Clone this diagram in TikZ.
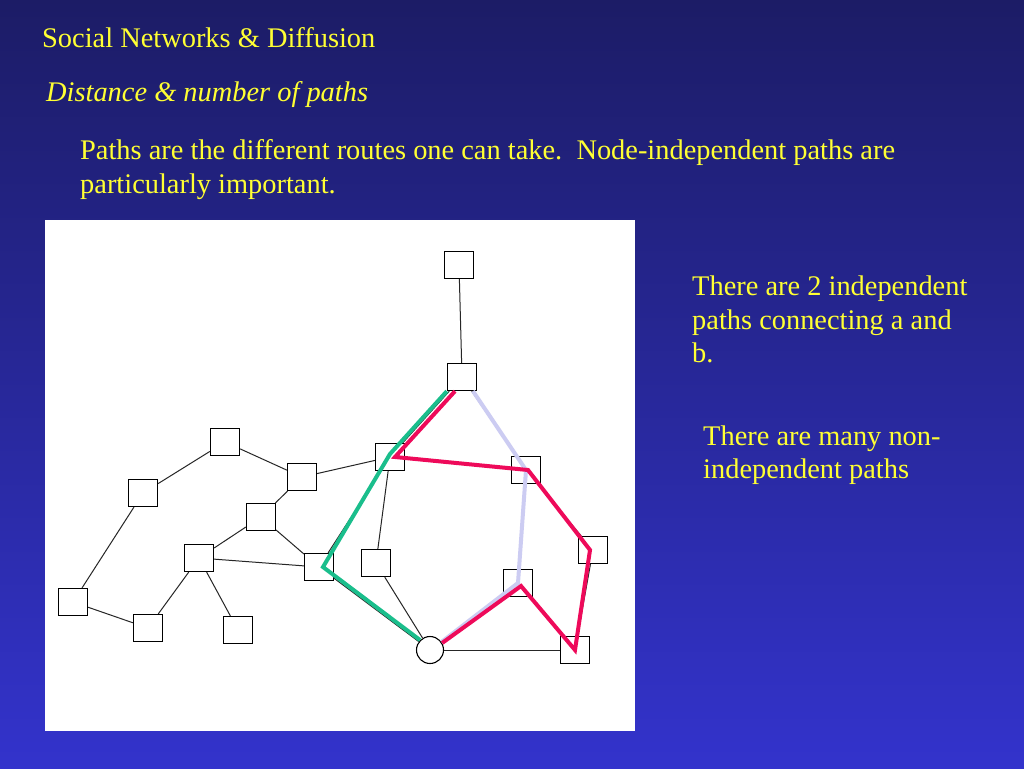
\documentclass[tikz,border=0pt]{standalone}
\usepackage{fontspec}
\setmainfont{Liberation Serif}

\definecolor{bgtop}{RGB}{28,28,102}
\definecolor{bgbot}{RGB}{51,51,204}
\definecolor{slideyellow}{RGB}{255,255,51}
\definecolor{pathgreen}{RGB}{26,190,140}
\definecolor{pathred}{RGB}{238,10,90}
\definecolor{pathlav}{RGB}{204,204,242}

\tikzset{
  box/.style={rectangle,draw,fill=white,minimum width=29pt,minimum height=27pt,inner sep=0pt,line width=1.3pt},
  endpt/.style={circle,draw,fill=white,minimum size=27pt,inner sep=0pt,line width=1.1pt},
  link/.style={line width=1pt,black!85},
  route/.style={line width=4pt,line join=miter},
  txt/.style={anchor=base west,inner sep=0pt,text=slideyellow,font=\fontsize{28.4}{34}\selectfont}
}

\begin{document}
\begin{tikzpicture}[x=1pt,y=-1pt]
\useasboundingbox (0,0) rectangle (1024,768);
\shade[top color=bgtop,bottom color=bgbot] (0,0) rectangle (1024,768);

% Text
\node[txt] at(42,48) (title) {Social Networks \& Diffusion};
\node[txt,font=\fontsize{28.4}{34}\selectfont\itshape] at(46,101) (subtitle) {Distance \& number of paths};
\node[txt] at(80,159) (intro1) {Paths are the different routes one can take.\ \ Node-independent paths are};
\node[txt] at(80,193) (intro2) {particularly important.};
\node[txt] at(692,295) (indep1) {There are 2 independent};
\node[txt] at(692,329) (indep2) {paths connecting a and};
\node[txt] at(692,362) (indep3) {b.};
\node[txt] at(703,445) (many1) {There are many non-};
\node[txt] at(703,478) (many2) {independent paths};

% Panel
\fill[white] (45,220) rectangle (635,731);

%Right part
\node[box] at(459,265) (top) {};
\node[box] at(462,377) (a) {};
\node[box] at(390,457) (v2) {};
\node[box] at(526,470) (v3) {};
\node[box] at(593,550) (v4) {};
\node[box] at(518,583) (v5) {};
\node[box] at(575,650) (v6) {};
\node[box] at(376,563) (v7) {};
\node[endpt] at(430,650) (b) {};
%Left part
\node[box] at(319,567) (v8) {};
\node[box] at(302,477) (v9) {};
\node[box] at(225,442) (v10) {};
\node[box] at(143,493) (v11) {};
\node[box] at(261,517) (v12) {};
\node[box] at(199,558) (v13) {};
\node[box] at(73,602) (v14) {};
\node[box] at(148,628) (v15) {};
\node[box] at(238,630) (v16) {};

%Edges
\draw[link] (top) -- (a);
\draw[link] (a) -- (v2);
\draw[link] (a) -- (v3);
\draw[link] (v2) -- (v3);
\draw[link] (v2) -- (v9);
\draw[link] (v2) -- (v7);
\draw[link] (v2) -- (v8);
\draw[link] (v3) -- (v4);
\draw[link] (v3) -- (v5);
\draw[link] (v4) -- (v6);
\draw[link] (v6) -- (v5);
\draw[link] (v5) -- (b);
\draw[link] (v7) -- (b);
\draw[link] (v8) -- (b);
\draw[link] (b) -- (v6);
\draw[link] (v9) -- (v10);
\draw[link] (v10) -- (v11);
\draw[link] (v11) -- (v14);
\draw[link] (v14) -- (v15);
\draw[link] (v15) -- (v13);
\draw[link] (v13) -- (v16);
\draw[link] (v13) -- (v12);
\draw[link] (v13) -- (v8);
\draw[link] (v12) -- (v9);
\draw[link] (v12) -- (v8);

%Paths a to b
\draw[route,pathlav] ([xshift=11pt]a.south) -- (v3.center) -- (v5.center) -- (b.35);
\draw[route,pathgreen] (a.south west) -- ([yshift=3pt]v2.center) -- ([xshift=4pt]v8.center) -- (b.135);
\draw[route,pathred] ([xshift=-7pt]a.south) -- ([xshift=5pt]v2.center) -- ([xshift=2pt]v3.center) -- ([xshift=-3pt]v4.center) -- (v6.center) -- ([xshift=3pt,yshift=-3pt]v5.center) -- (b.30);
\end{tikzpicture}
\end{document}
